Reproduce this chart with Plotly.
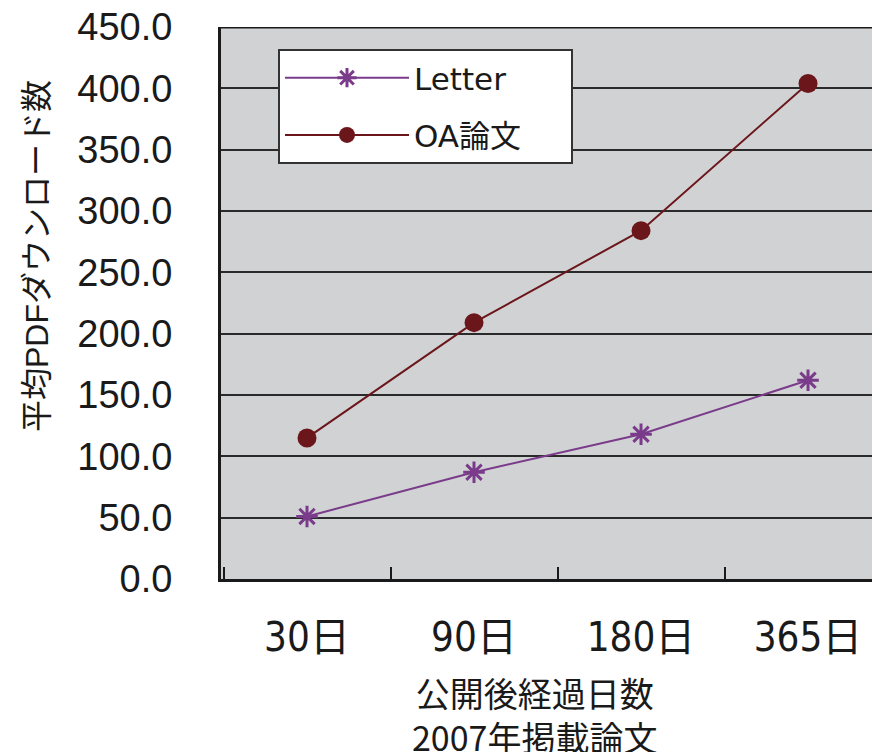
import plotly.graph_objects as go

categories = ["30日", "90日", "180日", "365日"]
letter = [51, 87, 118, 162]
oa = [115, 209, 284, 404]
series_names = ["Letter", "OA論文"]
y_ticks = [0, 50, 100, 150, 200, 250, 300, 350, 400, 450]
y_tick_text = [f"{v:.1f}" for v in y_ticks]
y_title = "平均PDFダウンロード数"
x_title_lines = ["公開後経過日数", "2007年掲載論文"]

C_LETTER = "#7A3B8B"
C_OA = "#6B161B"
PAD = "\u00a0" * 6

# page body has an 8px default margin; figure is sized to compensate
OFF = 8
fig = go.Figure()
fig.add_trace(go.Scatter(
    x=categories, y=letter, name=series_names[0] + PAD, mode="lines+markers",
    line=dict(color=C_LETTER, width=2),
    marker=dict(symbol="asterisk-open", size=18, color=C_LETTER,
                line=dict(color=C_LETTER, width=3)),
    legendgroup="a",
))
fig.add_trace(go.Scatter(
    x=categories, y=oa, name=series_names[1], mode="lines+markers",
    line=dict(color=C_OA, width=2),
    marker=dict(symbol="circle", size=19, color=C_OA),
    legendgroup="b",
))

fig.update_layout(
    width=880 - OFF, height=752 - OFF,
    margin=dict(l=221 - OFF, r=0, t=27 - OFF, b=173),
    paper_bgcolor="white", plot_bgcolor="#D1D2D4",
    font=dict(family="Liberation Sans, Arial, Noto Sans CJK JP", color="#1a1a1a"),
    showlegend=True,
    legend=dict(
        x=(278 - 221) / 659, y=(579 - 49) / 552, xanchor="left", yanchor="top",
        bgcolor="white", bordercolor="#333", borderwidth=2,
        font=dict(family="DejaVu Sans, Noto Sans CJK JP", size=31, color="#1a1a1a"),
        traceorder="grouped", tracegroupgap=14, itemwidth=124,
    ),
    xaxis=dict(
        type="category", range=[-0.515, 3.431], automargin=False,
        showgrid=False, showline=True, linecolor="#1a1a1a", linewidth=3,
        ticks="inside", tickson="boundaries", ticklen=12, tickwidth=1.5,
        tickcolor="#1a1a1a", ticklabelstandoff=21, ticklabeloverflow="allow",
        tickfont=dict(family="DejaVu Sans Condensed, Noto Sans CJK JP", size=40),
        zeroline=False,
    ),
    yaxis=dict(
        range=[0, 450], tickvals=y_ticks, ticktext=y_tick_text, automargin=False,
        showgrid=True, gridcolor="#2a2a2a", gridwidth=1.5,
        showline=True, linecolor="#1a1a1a", linewidth=3,
        ticks="", ticklabelstandoff=38, zeroline=False, ticklabeloverflow="allow",
        tickfont=dict(family="Liberation Sans, Arial", size=38),
    ),
)

fig.add_shape(type="line", xref="paper", yref="y", x0=0, x1=1, y0=450, y1=450,
              line=dict(color="#1a1a1a", width=3))

fig.add_annotation(text=y_title, xref="paper", yref="paper",
                   x=(37 - 221) / 659, y=(579 - 256) / 552, textangle=-90,
                   showarrow=False, xanchor="center", yanchor="middle",
                   font=dict(family="Liberation Sans, Noto Sans CJK JP", size=32, color="#1a1a1a"))
fig.add_annotation(text="<br>".join(x_title_lines), xref="paper", yref="paper",
                   x=(534 - 221) / 659, y=(579 - 714) / 552,
                   showarrow=False, xanchor="center", yanchor="middle", align="center",
                   font=dict(family="Noto Sans CJK JP", size=34, color="#1a1a1a"))

fig.write_html("out.html")
